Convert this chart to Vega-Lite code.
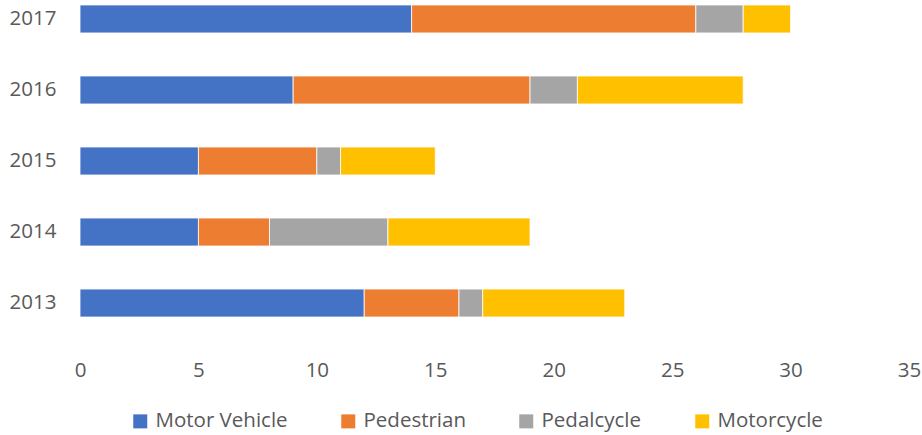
{
  "$schema": "https://vega.github.io/schema/vega-lite/v6.json",
  "autosize": {"type": "none"},
  "padding": {"left": 80, "top": 0, "right": 13, "bottom": 113},
  "width": 829,
  "height": 322,
  "background": "white",
  "config": {
    "view": {"stroke": null},
    "font": "Open Sans",
    "axis": {"labelFont": "Open Sans", "labelColor": "#595959", "labelFontSize": 20.5, "grid": false, "domain": false, "ticks": false},
    "legend": {"labelFont": "Open Sans", "labelColor": "#595959", "labelFontSize": 20.5}
  },
  "data": {
    "values": [
      {"year": "2017", "type": "Motor Vehicle", "k": 1, "value": 14},
      {"year": "2017", "type": "Pedestrian", "k": 2, "value": 12},
      {"year": "2017", "type": "Pedalcycle", "k": 3, "value": 2},
      {"year": "2017", "type": "Motorcycle", "k": 4, "value": 2},
      {"year": "2016", "type": "Motor Vehicle", "k": 1, "value": 9},
      {"year": "2016", "type": "Pedestrian", "k": 2, "value": 10},
      {"year": "2016", "type": "Pedalcycle", "k": 3, "value": 2},
      {"year": "2016", "type": "Motorcycle", "k": 4, "value": 7},
      {"year": "2015", "type": "Motor Vehicle", "k": 1, "value": 5},
      {"year": "2015", "type": "Pedestrian", "k": 2, "value": 5},
      {"year": "2015", "type": "Pedalcycle", "k": 3, "value": 1},
      {"year": "2015", "type": "Motorcycle", "k": 4, "value": 4},
      {"year": "2014", "type": "Motor Vehicle", "k": 1, "value": 5},
      {"year": "2014", "type": "Pedestrian", "k": 2, "value": 3},
      {"year": "2014", "type": "Pedalcycle", "k": 3, "value": 5},
      {"year": "2014", "type": "Motorcycle", "k": 4, "value": 6},
      {"year": "2013", "type": "Motor Vehicle", "k": 1, "value": 12},
      {"year": "2013", "type": "Pedestrian", "k": 2, "value": 4},
      {"year": "2013", "type": "Pedalcycle", "k": 3, "value": 1},
      {"year": "2013", "type": "Motorcycle", "k": 4, "value": 6}
    ]
  },
  "mark": {"type": "bar", "stroke": "white", "strokeWidth": 0.8},
  "encoding": {
    "y": {
      "field": "year", "type": "nominal", "sort": "descending", "title": null,
      "scale": {"paddingInner": 0.606, "paddingOuter": 0.07},
      "axis": {"labelPadding": 24}
    },
    "x": {
      "field": "value", "type": "quantitative", "stack": "zero", "title": null,
      "scale": {"domain": [0, 35], "nice": false},
      "axis": {"values": [0, 5, 10, 15, 20, 25, 30, 35], "labelPadding": 38, "labelFlush": false}
    },
    "color": {
      "field": "type", "type": "nominal", "title": null,
      "sort": ["Motor Vehicle", "Pedestrian", "Pedalcycle", "Motorcycle"],
      "scale": {"domain": ["Motor Vehicle", "Pedestrian", "Pedalcycle", "Motorcycle"], "range": ["#4472C4", "#ED7D31", "#A5A5A5", "#FFC000"]},
      "legend": {"orient": "none", "legendX": 50, "legendY": 411, "direction": "horizontal", "symbolType": "square", "symbolSize": 196, "symbolStrokeWidth": 0, "labelOffset": 5, "columnPadding": 50, "padding": 0}
    },
    "order": {"field": "k", "type": "quantitative"}
  }
}
